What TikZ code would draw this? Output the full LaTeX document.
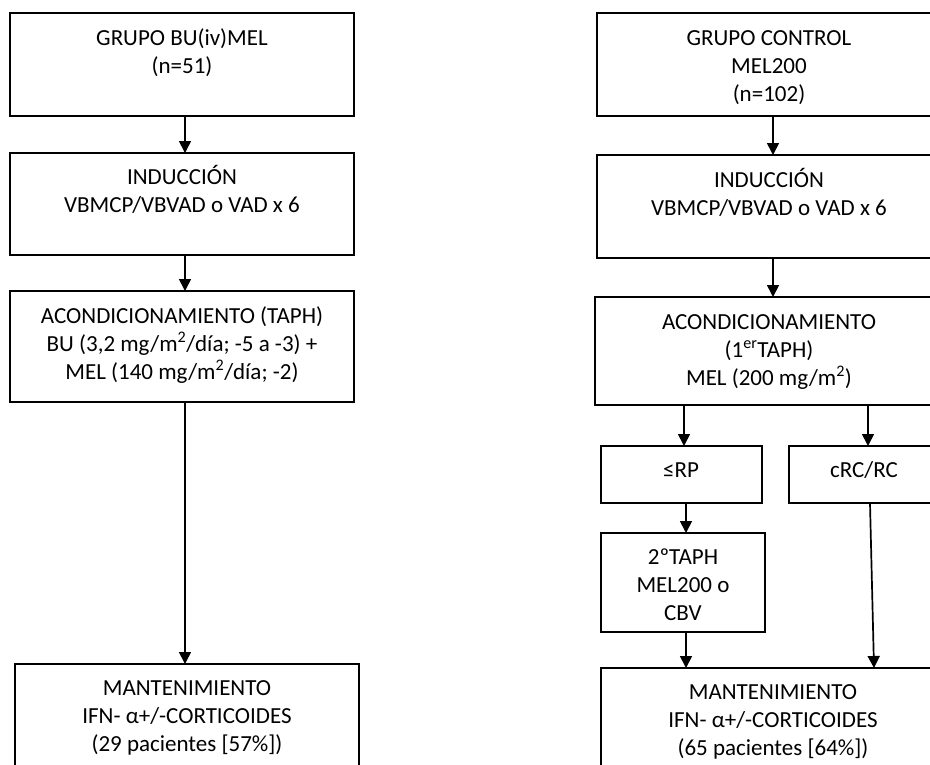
\documentclass[tikz,border=0pt]{standalone}
\usepackage{fontspec}
\setmainfont{Carlito}
\usetikzlibrary{arrows.meta,calc}
\begin{document}
\begin{tikzpicture}[x=1pt,y=-1pt,
  box/.style={draw, line width=1.7pt, inner sep=0pt, outer sep=0pt, anchor=north west},
  txt/.style={anchor=north, inner sep=0pt, align=center, font=\fontsize{23}{28}\selectfont},
  arr/.style={line width=1.7pt, -{Triangle[width=12pt,length=12pt]}}]
\useasboundingbox (0,0) rectangle (930,764);
\clip (0,0) rectangle (930,764);
% left column
\node[box, minimum width=344pt, minimum height=103pt] (L1) at (10,13) {};
\node[box, minimum width=344pt, minimum height=102pt] (L2) at (10,153) {};
\node[box, minimum width=344pt, minimum height=111pt] (L3) at (10,291) {};
\node[box, minimum width=344pt, minimum height=150pt] (L4) at (15,664) {};
\node[txt] (tL1) at (182,25.8) {\strut GRUPO BU(iv)MEL\\\strut (n=51)};
\node[txt] (tL2) at (182,164.3) {\strut INDUCCIÓN\\\strut VBMCP/VBVAD o VAD x 6};
\node[txt] (tL3) at (182,303.3) {\strut ACONDICIONAMIENTO (TAPH)\\\strut BU (3,2 mg/m\textsuperscript{2}/día; -5 a -3) +\\\strut MEL (140 mg/m\textsuperscript{2}/día; -2)};
\node[txt] (tL4) at (187,675.8) {\strut MANTENIMIENTO\\\strut IFN- α+/-CORTICOIDES\\\strut (29 pacientes [57\%])};
% right column
\node[box, minimum width=344pt, minimum height=103pt] (R1) at (597,13) {};
\node[box, minimum width=344pt, minimum height=103pt] (R2) at (597,155) {};
\node[box, minimum width=346pt, minimum height=108pt] (R3) at (595,297) {};
\node[box, minimum width=161pt, minimum height=57pt] (RP) at (601,446) {};
\node[box, minimum width=150pt, minimum height=57pt] (RC) at (789,446) {};
\node[box, minimum width=164pt, minimum height=99pt] (T2) at (601,533) {};
\node[box, minimum width=344pt, minimum height=150pt] (R4) at (601,668) {};
\node[txt] (tR1) at (769,25.8) {\strut GRUPO CONTROL\\\strut MEL200\\\strut (n=102)};
\node[txt] (tR2) at (769,167.8) {\strut INDUCCIÓN\\\strut VBMCP/VBVAD o VAD x 6};
\node[txt] (tR3) at (769,309.3) {\strut ACONDICIONAMIENTO\\\strut (1\textsuperscript{er}TAPH)\\\strut MEL (200 mg/m\textsuperscript{2})};
\node[txt] (tRP) at (681,457.8) {\strut ≤RP};
\node[txt] (tRC) at (864,457.8) {\strut cRC/RC};
\node[txt] (tT2) at (683,544.8) {\strut 2ºTAPH\\\strut MEL200 o\\\strut CBV};
\node[txt] (tR4) at (773,679.8) {\strut MANTENIMIENTO\\\strut IFN- α+/-CORTICOIDES\\\strut (65 pacientes [64\%])};
% arrows
\draw[arr] ([xshift=3pt]L1.south) -- ([xshift=3pt]L2.north);
\draw[arr] ([xshift=3pt]L2.south) -- ([xshift=3pt]L3.north);
\draw[arr] ([xshift=3pt]L3.south) -- ([xshift=3pt]L3.south |- L4.north);
\draw[arr] ([xshift=4pt]R1.south) -- ([xshift=4pt]R2.north);
\draw[arr] ([xshift=4pt]R2.south) -- ([xshift=4pt]R2.south |- R3.north);
\draw[arr] ([xshift=2.5pt]RP.north |- R3.south) -- ([xshift=2.5pt]RP.north);
\draw[arr] ([xshift=4pt]RC.north |- R3.south) -- ([xshift=4pt]RC.north);
\draw[arr] ([xshift=4.5pt]RP.south) -- ([xshift=4.5pt]RP.south |- T2.north);
\draw[arr] ([xshift=3pt]T2.south) -- ([xshift=3pt]T2.south |- R4.north);
\draw[arr] ([xshift=6pt]RC.south) -- ([xshift=10pt]RC.south |- R4.north);
\end{tikzpicture}
\end{document}
